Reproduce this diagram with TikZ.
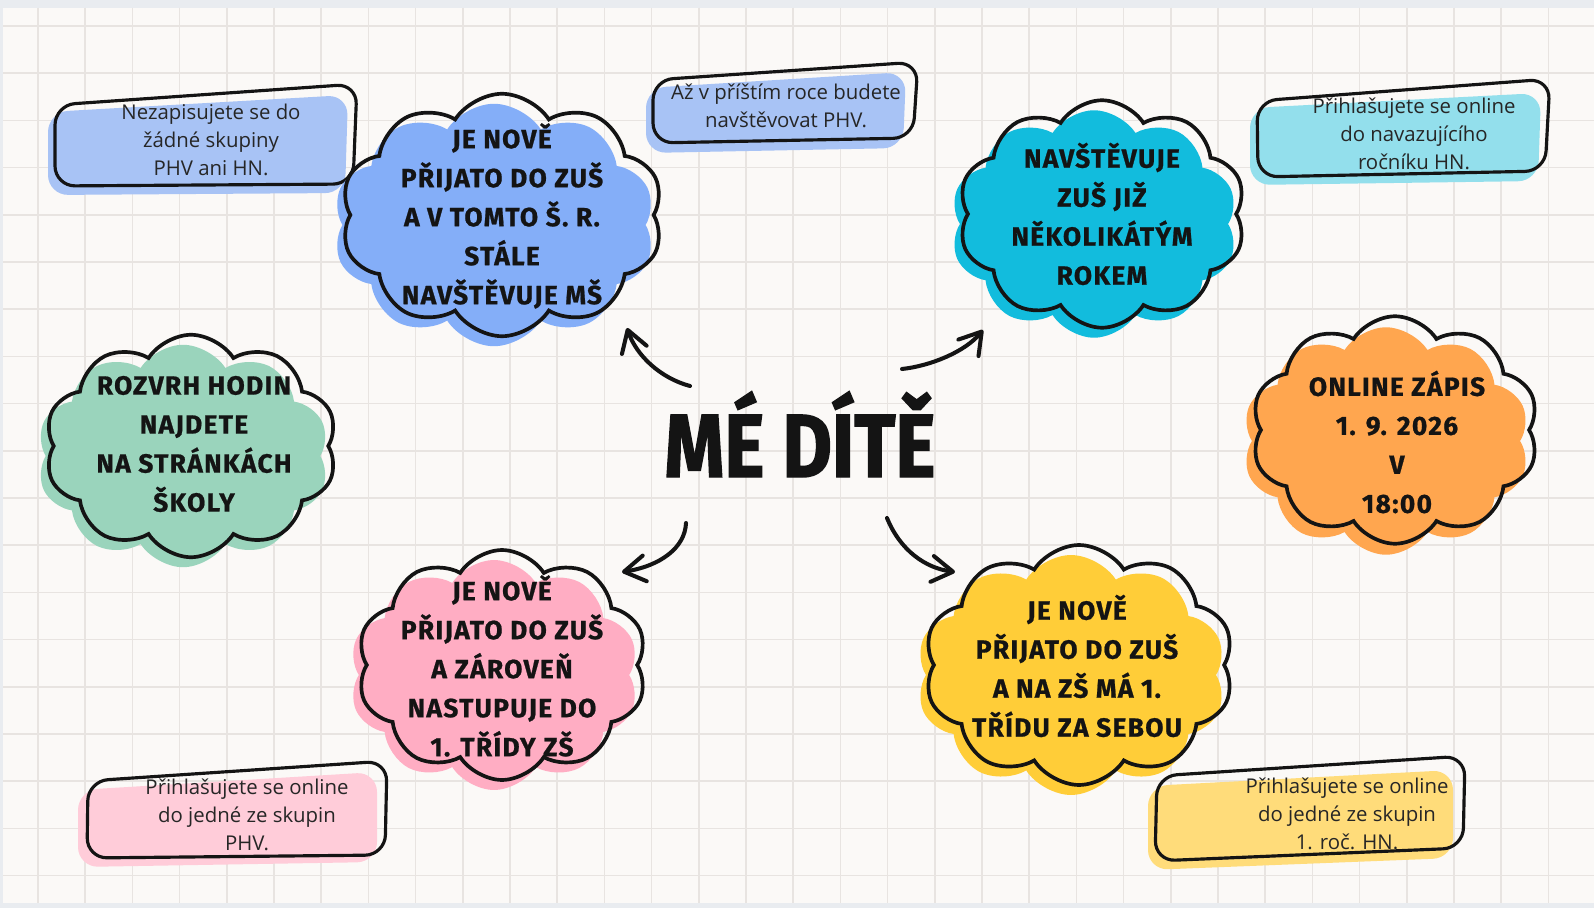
\documentclass[tikz,border=0pt]{standalone}
\usepackage{fontspec}
\setmainfont{Open Sans}
\newfontfamily\bodyfont{Open Sans}
\newfontfamily\cloudfont[LetterSpace=5,FakeBold=0.8]{Fira Sans}
\newfontfamily\titlefont[FakeStretch=0.85,FakeBold=1.5]{Fira Sans}
\usetikzlibrary{shapes.symbols,arrows.meta}
\definecolor{inkblack}{HTML}{141414}
\definecolor{textgray}{HTML}{262626}
\definecolor{canvas}{HTML}{FBF9F7}
\definecolor{bordergray}{HTML}{E9ECF0}
\definecolor{gridc}{HTML}{E8E4E1}
\definecolor{cBlue}{HTML}{84AEF8}
\definecolor{cBlueL}{HTML}{A8C3F5}
\definecolor{cCyan}{HTML}{12BCDD}
\definecolor{cCyanL}{HTML}{93DFEC}
\definecolor{cOrange}{HTML}{FFA64F}
\definecolor{cGreen}{HTML}{9AD4BC}
\definecolor{cPink}{HTML}{FFADC3}
\definecolor{cPinkL}{HTML}{FFCCD9}
\definecolor{cYellow}{HTML}{FFCD38}
\definecolor{cYellowL}{HTML}{FFDC7A}
\tikzset{
  cloudbase/.style={cloud, cloud puffs=10, cloud puff arc=115, cloud ignores aspect, inner sep=0pt},
  cloudfill/.style={cloudbase, draw=none},
  cloudline/.style={cloudbase, draw=inkblack, line width=2.1pt},
  cloudtext/.style={font=\cloudfont\bfseries\fontsize{15}{22.2}\selectfont, align=center, text=inkblack},
  notetext/.style={font=\bodyfont\fontsize{11.6}{15.8}\selectfont, align=center, text=textgray},
  noteline/.style={draw=inkblack, line width=1.8pt, rounded corners=0.4cm},
  notefill/.style={rounded corners=0.4cm},
  arrowstroke/.style={draw=inkblack, line width=2.3pt, line cap=round,
    -{Straight Barb[length=0.42cm,width=0.52cm,round]}},
  gridline/.style={draw=gridc, line width=0.9pt},
}
\begin{document}
\begin{tikzpicture}[x=0.02cm,y=-0.02cm]
\useasboundingbox (0,0) rectangle (1594,908);
\fill[bordergray] (0,0) rectangle (1594,908);
\fill[canvas] (3,8) rectangle (1594,903);
\begin{scope}
\clip (3,8) rectangle (1594,903);
\foreach \i in {0,...,33} \draw[gridline] ({38+47.2*\i},8) -- ({38+47.2*\i},903);
\foreach \j in {0,...,18} \draw[gridline] (3,{26+47.2*\j}) -- (1594,{26+47.2*\j});
\end{scope}

% note boxes: fills
\fill[notefill, cBlueL] (48,112) -- (348,95) -- (345,193) -- (48,195) -- cycle;
\fill[notefill, cBlueL] (646,88) -- (906,72) -- (903,148) -- (646,153) -- cycle;
\fill[notefill, cCyanL] (1250,108) -- (1541,93) -- (1538,181) -- (1250,185) -- cycle;
\fill[notefill, cPinkL] (78,790) -- (377,772) -- (377,862) -- (78,867) -- cycle;
\fill[notefill, cYellowL] (1148,786) -- (1453,770) -- (1453,858) -- (1148,870) -- cycle;
% note boxes: outlines
\draw[noteline] (55,105) -- (357,84) -- (353,184) -- (55,186) -- cycle;
\draw[noteline] (653,80) -- (918,62) -- (913,138) -- (653,143) -- cycle;
\draw[noteline] (1257,101) -- (1550,79) -- (1545,171) -- (1258,177) -- cycle;
\draw[noteline] (88,781) -- (387,761) -- (385,855) -- (87,858) -- cycle;
\draw[noteline] (1157,776) -- (1465,756) -- (1463,848) -- (1155,861) -- cycle;
% note texts
\node[notetext] (n1) at (211,140) {Nezapisujete se do\\žádné skupiny\\PHV ani HN.};
\node[notetext] (n2) at (786,106) {Až v příštím roce budete\\navštěvovat PHV.};
\node[notetext] (n3) at (1414,134) {Přihlašujete se online\\do navazujícího\\ročníku HN.};
\node[notetext] (n4) at (247,815) {Přihlašujete se online\\do jedné ze skupin\\PHV.};
\node[notetext] (n5) at (1347,814) {Přihlašujete se online\\do jedné ze skupin\\1. roč. HN.};

% clouds: colour fills (offset)
\node[cloudfill, fill=cBlue, minimum width=6.45cm, minimum height=4.85cm] (c1f) at (494,225) {};
\node[cloudfill, fill=cCyan, minimum width=5.75cm, minimum height=4.55cm] (c2f) at (1094,224) {};
\node[cloudfill, fill=cOrange, minimum width=5.75cm, minimum height=4.55cm] (c3f) at (1386,441) {};
\node[cloudfill, fill=cGreen, minimum width=5.85cm, minimum height=4.45cm] (c4f) at (183,456) {};
\node[cloudfill, fill=cPink, minimum width=5.8cm, minimum height=4.6cm] (c5f) at (494,675) {};
\node[cloudfill, fill=cYellow, minimum width=6.2cm, minimum height=4.8cm] (c6f) at (1071,675) {};
% clouds: outlines
\node[cloudline, minimum width=6.45cm, minimum height=4.85cm] (c1) at (502,215) {};
\node[cloudline, minimum width=5.75cm, minimum height=4.55cm] (c2) at (1102,214) {};
\node[cloudline, minimum width=5.75cm, minimum height=4.55cm] (c3) at (1395,430) {};
\node[cloudline, minimum width=5.85cm, minimum height=4.45cm] (c4) at (191,446) {};
\node[cloudline, minimum width=5.8cm, minimum height=4.6cm] (c5) at (502,665) {};
\node[cloudline, minimum width=6.2cm, minimum height=4.8cm] (c6) at (1079,665) {};
% cloud texts
\node[cloudtext] (t1) at (502,216) {JE NOVĚ\\PŘIJATO DO ZUŠ\\A V TOMTO Š. R.\\STÁLE\\NAVŠTĚVUJE MŠ};
\node[cloudtext] (t2) at (1102,214) {NAVŠTĚVUJE\\ZUŠ JIŽ\\NĚKOLIKÁTÝM\\ROKEM};
\node[cloudtext] (t3) at (1397,442) {ONLINE ZÁPIS\\1. 9. 2026\\V\\18:00};
\node[cloudtext] (t4) at (194,444) {ROZVRH HODIN\\NAJDETE\\NA STRÁNKÁCH\\ŠKOLY};
\node[cloudtext] (t5) at (502,666) {JE NOVĚ\\PŘIJATO DO ZUŠ\\A ZÁROVEŇ\\NASTUPUJE DO\\1. TŘÍDY ZŠ};
\node[cloudtext] (t6) at (1077,666) {JE NOVĚ\\PŘIJATO DO ZUŠ\\A NA ZŠ MÁ 1.\\TŘÍDU ZA SEBOU};

% title
\node[font=\titlefont\bfseries\fontsize{51}{51}\selectfont, text=inkblack, anchor=base] (title) at (800,477) {MÉ DÍTĚ};

% arrows
\coordinate (a1s) at (690,386); \coordinate (a1e) at (627,328);
\coordinate (a2s) at (902,369); \coordinate (a2e) at (983,330);
\coordinate (a3s) at (686,523); \coordinate (a3e) at (622,572);
\coordinate (a4s) at (887,518); \coordinate (a4e) at (955,572);
\draw[arrowstroke] (a1s) .. controls (660,378) and (636,355) .. (a1e);
\draw[arrowstroke] (a2s) .. controls (930,366) and (965,352) .. (a2e);
\draw[arrowstroke] (a3s) .. controls (685,548) and (660,566) .. (a3e);
\draw[arrowstroke] (a4s) .. controls (900,550) and (925,568) .. (a4e);
\end{tikzpicture}
\end{document}
